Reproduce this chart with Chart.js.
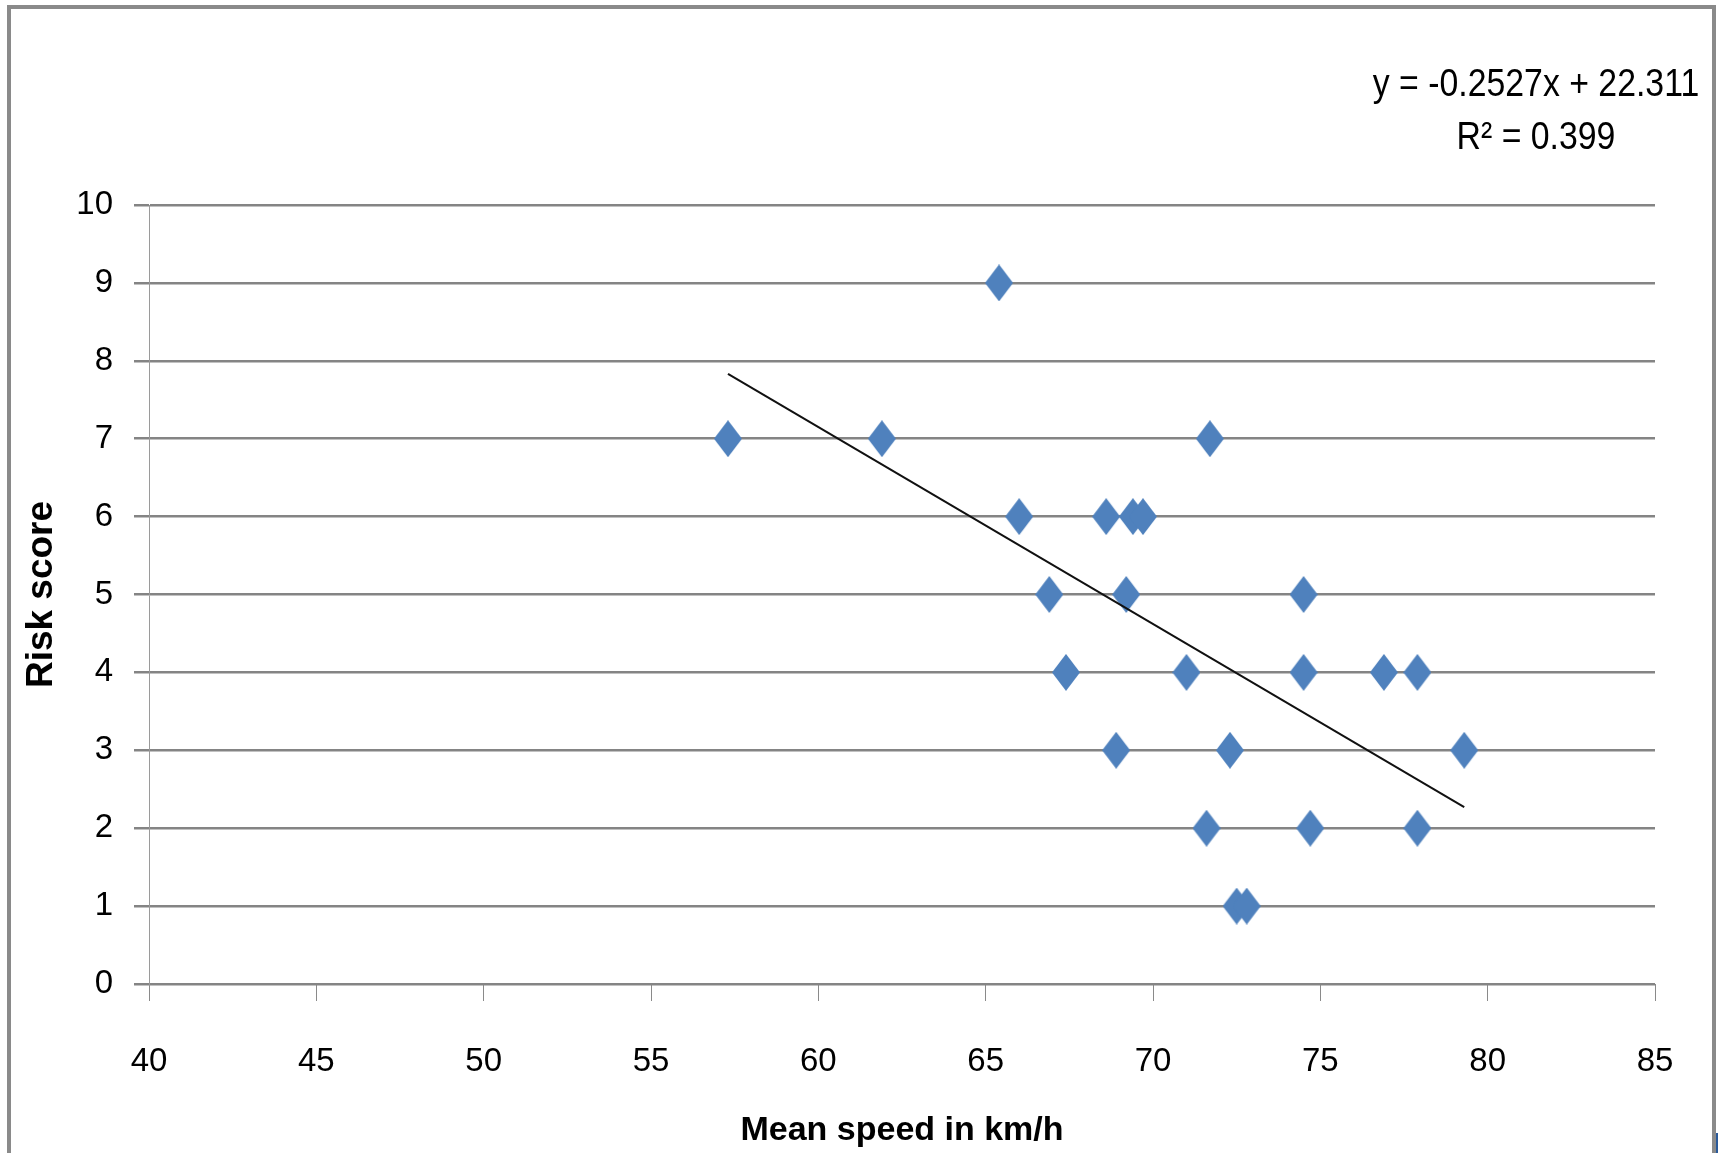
<!DOCTYPE html>
<html>
<head>
<meta charset="utf-8">
<script src="https://cdn.jsdelivr.net/npm/chart.js@4.4.0/dist/chart.umd.min.js"></script>
<style>
  html, body { margin: 0; padding: 0; background: #fff; }
  #wrap { position: relative; width: 1718px; height: 1153px; overflow: hidden; }
  #frame {
    position: absolute; left: 7px; top: 5px; width: 1701px; height: 1200px;
    border-left: 4px solid #8a8a8a; border-right: 4px solid #8a8a8a; border-top: 4px solid #8a8a8a;
  }
  #corner { position: absolute; left: 1716px; top: 1133px; width: 2px; height: 20px; background: #2a5a9a; }
  canvas { position: absolute; left: 0; top: 0; }
</style>
</head>
<body>
<div id="wrap">
  <div id="frame"></div>
  <div id="corner"></div>
  <canvas id="riskChart" width="1718" height="1153"></canvas>
</div>
<script>
// Mean speed (km/h) and risk score per driver
var speeds = [65.4, 57.3, 61.9, 71.7, 66.0, 68.6, 69.4, 69.7, 66.9, 69.2, 74.5, 67.4,
              71.0, 74.5, 76.9, 77.9, 68.9, 72.3, 79.3, 71.6, 74.7, 77.9, 72.5, 72.8];
var riskScores = [9, 7, 7, 7, 6, 6, 6, 6, 5, 5, 5, 4,
                  4, 4, 4, 4, 3, 3, 3, 2, 2, 2, 1, 1];

// Linear trend shown on the chart
var trendSlope = -0.2527;
var trendIntercept = 22.311;
var trendLabels = ["y = -0.2527x + 22.311", "R\u00B2 = 0.399"];

var xTicks = [40, 45, 50, 55, 60, 65, 70, 75, 80, 85];
var yTicks = [0, 1, 2, 3, 4, 5, 6, 7, 8, 9, 10];

document.addEventListener("DOMContentLoaded", function () {
    var FONT = "'Liberation Sans', Arial, sans-serif";

    var points = speeds.map(function (s, i) { return { x: s, y: riskScores[i] }; });
    var xMin = Math.min.apply(null, speeds);
    var xMax = Math.max.apply(null, speeds);
    var trend = [xMin, xMax].map(function (x) { return { x: x, y: trendSlope * x + trendIntercept }; });

    // tall diamond marker like the Excel one
    var marker = document.createElement("canvas");
    marker.width = 28;
    marker.height = 37;
    var mc = marker.getContext("2d");
    mc.fillStyle = "#4F81BD";
    mc.beginPath();
    mc.moveTo(14, 0);
    mc.lineTo(28, 18.5);
    mc.lineTo(14, 37);
    mc.lineTo(0, 18.5);
    mc.closePath();
    mc.fill();

    // equation box text, squeezed a bit to look like Calibri
    var equationText = {
        id: "equationText",
        afterDraw: function (chart) {
            var c = chart.ctx;
            c.save();
            c.fillStyle = "#000";
            c.font = "38px " + FONT;
            c.textAlign = "center";
            c.textBaseline = "middle";
            c.translate(1536, 0);
            c.scale(0.89, 1);
            c.fillText(trendLabels[0], 0, 86);
            c.fillText(trendLabels[1], 0, 139);
            c.restore();
        }
    };

    var ctx = document.getElementById("riskChart").getContext("2d");
    new Chart(ctx, {
        type: "scatter",
        data: {
            datasets: [{
                label: "Trend",
                type: "line",
                data: trend,
                borderColor: "#111",
                borderWidth: 2,
                pointRadius: 0,
                fill: false,
                order: 0
            }, {
                label: "Risk score",
                data: points,
                pointStyle: marker,
                pointRadius: 14,
                order: 1
            }]
        },
        options: {
            responsive: false,
            animation: false,
            layout: { padding: { left: 0, top: 205, right: 63, bottom: 0 } },
            plugins: {
                legend: { display: false },
                tooltip: { enabled: false }
            },
            scales: {
                x: {
                    type: "linear",
                    min: xTicks[0],
                    max: xTicks[xTicks.length - 1],
                    afterBuildTicks: function (scale) {
                        scale.ticks = xTicks.map(function (v) { return { value: v }; });
                    },
                    afterFit: function (scale) { scale.height = 169; },
                    grid: {
                        drawOnChartArea: false,
                        drawTicks: true,
                        tickLength: 17,
                        color: "#8a8a8a",
                        lineWidth: 1
                    },
                    border: { display: false },
                    ticks: {
                        color: "#000",
                        padding: 41,
                        font: { family: FONT, size: 33 }
                    },
                    title: {
                        display: true,
                        text: "Mean speed in km/h",
                        color: "#000",
                        font: { family: FONT, size: 34, weight: "bold" },
                        padding: { top: 0, bottom: 2 }
                    }
                },
                y: {
                    min: yTicks[0],
                    max: yTicks[yTicks.length - 1],
                    afterBuildTicks: function (scale) {
                        scale.ticks = yTicks.map(function (v) { return { value: v }; });
                    },
                    afterFit: function (scale) { scale.width = 149; },
                    grid: {
                        color: "#848484",
                        lineWidth: 2.5,
                        tickLength: 15
                    },
                    border: { color: "#9a9a9a", width: 1 },
                    ticks: {
                        color: "#000",
                        padding: 21,
                        font: { family: FONT, size: 33 }
                    },
                    title: {
                        display: true,
                        text: "Risk score",
                        color: "#000",
                        font: { family: FONT, size: 37, weight: "bold" },
                        padding: { top: 20, bottom: 0 }
                    }
                }
            }
        },
        plugins: [equationText]
    });
});
</script>
</body>
</html>
